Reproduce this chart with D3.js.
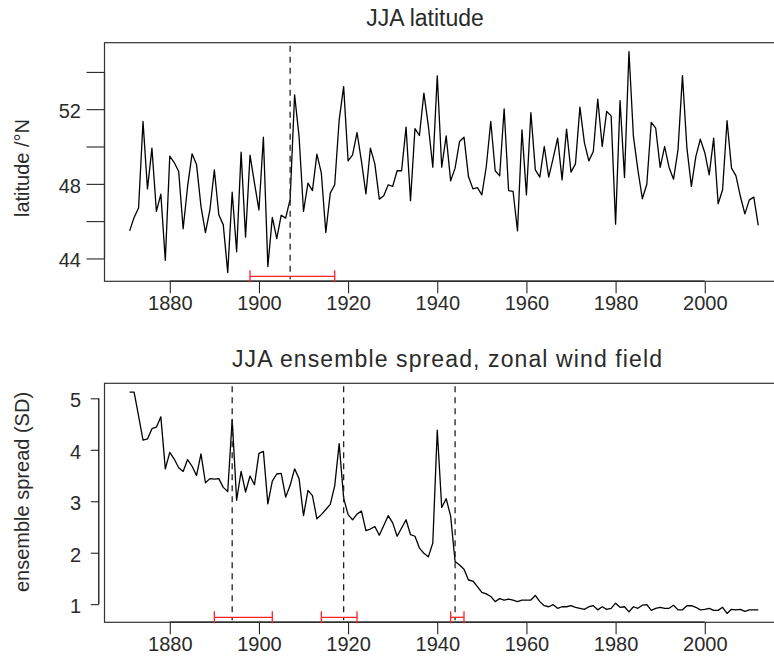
<!DOCTYPE html>
<html>
<head>
<meta charset="utf-8">
<title>JJA latitude and ensemble spread</title>
<script src="https://d3js.org/d3.v7.min.js"></script>
<style>
  body { margin: 0; background: #fff; }
  svg text { font-family: "Liberation Sans", Arial, sans-serif; fill: #2a2a2a; }
</style>
</head>
<body>
<div id="chart"></div>
<script type="text/javascript">

var firstYear = 1871, lastYear = 2012;
var years = d3.range(firstYear, lastYear + 1);

// JJA latitude (deg N)
var latitude = [
  45.48, 46.2, 46.7, 51.34, 47.73, 49.91, 46.52, 47.45, 43.9,
  49.48, 49.14, 48.66, 45.59, 47.86, 49.61, 49.04, 46.79, 45.39, 46.6,
  48.75, 46.34, 45.8, 43.25, 47.55, 44.36, 49.7, 45.14, 49.54, 48.04,
  46.6, 50.5, 43.57, 46.2, 45.07, 46.32, 46.16, 47.18, 52.77, 50.54,
  46.52, 48.04, 47.64, 49.59, 48.57, 45.39, 47.5, 47.95, 51.43, 53.21,
  49.23, 49.55, 50.75, 49.2, 47.46, 49.91, 49.07, 47.18, 47.36, 47.95,
  47.86, 48.7, 48.7, 51.04, 47.09, 50.96, 50.59, 52.86, 51.11, 48.89,
  53.79, 48.89, 50.57, 48.16, 48.84, 50.27, 50.5, 48.39, 47.73, 47.8,
  47.41, 48.93, 51.34, 48.7, 48.43, 52.02, 47.64, 47.59, 45.48, 50.89,
  47.41, 51.82, 48.75, 48.36, 50.0, 48.36, 49.38, 50.45, 48.21, 50.93,
  48.63, 49.07, 52.11, 50.21, 49.23, 49.73, 52.54, 50.0, 51.88, 51.64,
  45.84, 52.46, 48.34, 55.09, 50.54, 48.75, 47.2, 47.98, 51.29, 50.98,
  48.88, 50.0, 48.88, 48.25, 49.82, 53.8, 49.91, 47.86, 49.46, 50.39,
  49.68, 48.48, 50.45, 46.93, 47.68, 51.38, 48.84, 48.43, 47.32, 46.39,
  47.14, 47.29, 45.77
];

// JJA ensemble spread of the zonal wind field (SD)
var spread = [
  5.12, 5.12, 4.66, 4.19, 4.21, 4.41, 4.44, 4.64, 3.63,
  3.95, 3.82, 3.65, 3.58, 3.81, 3.68, 3.5, 3.92, 3.36, 3.44,
  3.43, 3.44, 3.27, 3.19, 4.59, 3.02, 3.58, 3.18, 3.49, 3.32,
  3.93, 3.97, 2.95, 3.39, 3.53, 3.54, 3.08, 3.31, 3.63, 3.44,
  2.72, 3.21, 3.11, 2.66, 2.74, 2.84, 2.94, 3.3, 4.12, 3.06,
  2.74, 2.64, 2.75, 2.81, 2.43, 2.46, 2.51, 2.34, 2.53, 2.72,
  2.58, 2.32, 2.48, 2.64, 2.35, 2.32, 2.09, 1.99, 1.92, 2.19,
  4.38, 2.88, 3.05, 2.71, 1.83, 1.76, 1.68, 1.47, 1.45, 1.34,
  1.23, 1.2, 1.15, 1.05, 1.11, 1.08, 1.1, 1.08, 1.05, 1.08,
  1.08, 1.08, 1.17, 1.05, 0.97, 0.95, 0.99, 0.92, 0.95, 0.95,
  0.97, 0.94, 0.92, 0.9, 0.95, 0.97, 0.89, 0.95, 0.9, 0.92,
  1.02, 0.94, 0.95, 0.85, 0.95, 0.92, 0.98, 0.99, 0.88, 0.92,
  0.94, 0.92, 0.92, 0.98, 0.89, 0.89, 0.97, 0.97, 0.94, 0.89,
  0.9, 0.92, 0.88, 0.88, 0.94, 0.82, 0.9, 0.89, 0.9, 0.86,
  0.89, 0.89, 0.89
];

var xTicks = [1880, 1900, 1920, 1940, 1960, 1980, 2000];
var latTicks = [44, 46, 48, 50, 52, 54];
var latLabels = [44, 48, 52];
var spreadTicks = [1, 2, 3, 4, 5];

// break points (dashed) and their confidence intervals (red)
var latBreaks = [1907];
var latIntervals = [[1898, 1917]];
var spreadBreaks = [1894, 1919, 1944];
var spreadIntervals = [[1890, 1903], [1914, 1922], [1943, 1946]];

var W = 774, H = 662;
var left = 104.5, right = 783.4;

var svg = d3.select("#chart").append("svg")
  .attr("width", W).attr("height", H);

// R style: pad the data range by 4% on each side
function padded(a, b) {
  var e = (b - a) * 0.04;
  return [a - e, b + e];
}

var x = d3.scaleLinear()
  .domain(padded(firstYear, lastYear))
  .range([left, right]);

function panel(o) {
  var g = svg.append("g");
  var y = d3.scaleLinear()
    .domain(padded(d3.min(o.values), d3.max(o.values)))
    .range([o.bottom, o.top]);

  // title
  var t = g.append("text")
    .attr("x", o.titleX).attr("y", o.top - 16.5)
    .attr("text-anchor", "middle")
    .style("font-size", "23px")
    .text(o.title);
  if (o.titleWidth) t.attr("textLength", o.titleWidth).attr("lengthAdjust", "spacing");

  // y label
  g.append("text")
    .attr("transform", "translate(29," + o.labelY + ") rotate(-90)")
    .attr("text-anchor", "middle")
    .style("font-size", "20px")
    .text(o.ylabel);

  // x axis
  var xa = g.append("g")
    .attr("transform", "translate(0," + o.bottom + ")")
    .call(d3.axisBottom(x).tickValues(xTicks).tickSize(12).tickPadding(3)
      .tickFormat(d3.format("d")));
  xa.select(".domain").remove();
  xa.selectAll("line").attr("stroke", "#111");
  xa.selectAll("text").style("font-size", "20px").attr("fill", "#2a2a2a");
  g.append("line")
    .attr("x1", x(xTicks[0])).attr("x2", x(xTicks[xTicks.length - 1]))
    .attr("y1", o.bottom).attr("y2", o.bottom)
    .attr("stroke", "#000").attr("stroke-width", 1.6);

  // y axis
  var ya = g.append("g")
    .attr("transform", "translate(" + o.axisX + ",0)")
    .call(d3.axisLeft(y).tickValues(o.ticks).tickSize(o.tickLen)
      .tickPadding(o.axisX - o.tickLen - 81)
      .tickFormat(function(d) { return o.labels.indexOf(d) >= 0 ? d : ""; }));
  ya.select(".domain").remove();
  ya.selectAll("line").attr("stroke", "#111");
  ya.selectAll("text").style("font-size", "20px").attr("fill", "#2a2a2a")
    .attr("dy", "0.42em");
  g.append("line")
    .attr("x1", o.axisX).attr("x2", o.axisX)
    .attr("y1", y(o.ticks[0])).attr("y2", y(o.ticks[o.ticks.length - 1]))
    .attr("stroke", "#000").attr("stroke-width", 1.2);

  // box
  g.append("rect")
    .attr("x", left).attr("y", o.top)
    .attr("width", right - left).attr("height", o.bottom - o.top)
    .attr("fill", "none").attr("stroke", "#333").attr("stroke-width", 1.2);

  // series
  var line = d3.line()
    .x(function(d, i) { return x(years[i]); })
    .y(function(d) { return y(d); });
  g.append("path")
    .datum(o.values)
    .attr("d", line)
    .attr("fill", "none")
    .attr("stroke", "#000")
    .attr("stroke-width", 1.3)
    .attr("stroke-linejoin", "round");

  // break lines
  g.selectAll(".brk").data(o.breaks).enter().append("line")
    .attr("x1", function(d) { return x(d); })
    .attr("x2", function(d) { return x(d); })
    .attr("y1", o.top + 3).attr("y2", o.bottom - 2)
    .attr("stroke", "#222").attr("stroke-width", 1.3)
    .attr("stroke-dasharray", "6,5");

  // intervals
  var iv = g.selectAll(".iv").data(o.intervals).enter().append("g")
    .attr("stroke", "#f22").attr("stroke-width", 1.3);
  iv.append("line")
    .attr("x1", function(d) { return x(d[0]); })
    .attr("x2", function(d) { return x(d[1]); })
    .attr("y1", o.bottom - 5).attr("y2", o.bottom - 5);
  iv.each(function(d) {
    var s = d3.select(this);
    d.forEach(function(v) {
      s.append("line")
        .attr("x1", x(v)).attr("x2", x(v))
        .attr("y1", o.bottom - 11).attr("y2", o.bottom + 1);
    });
  });
}

panel({
  title: "JJA latitude", titleX: 425,
  ylabel: "latitude /\u00b0N", labelY: 168,
  values: latitude, top: 42.7, bottom: 281.3,
  ticks: latTicks, labels: latLabels, axisX: 104.5, tickLen: 18,
  breaks: latBreaks, intervals: latIntervals
});

panel({
  title: "JJA ensemble spread, zonal wind field", titleX: 447, titleWidth: 430,
  ylabel: "ensemble spread (SD)", labelY: 492,
  values: spread, top: 383.3, bottom: 622.3,
  ticks: spreadTicks, labels: spreadTicks, axisX: 98.8, tickLen: 8,
  breaks: spreadBreaks, intervals: spreadIntervals
});

</script>
</body>
</html>
